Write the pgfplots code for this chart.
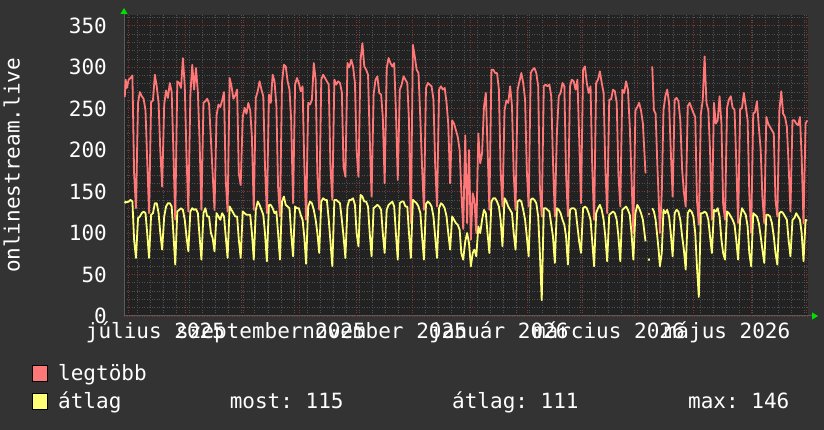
\documentclass[border=0pt]{standalone}
\usepackage{fontspec}
\setmainfont{DejaVu Sans Mono}
\usepackage{pgfplots}
\usepackage{pgfplotstable}
\pgfplotsset{compat=1.18}
\usetikzlibrary{arrows.meta}
\frenchspacing
\definecolor{bgout}{HTML}{333333}
\definecolor{bgplot}{HTML}{222222}
\definecolor{gridminor}{HTML}{505050}
\definecolor{gridmajor}{HTML}{803535}
\definecolor{lred}{HTML}{FF7777}
\definecolor{lyel}{HTML}{FFFF77}
\definecolor{axisgray}{HTML}{5A5A5A}
\definecolor{arrowgreen}{HTML}{00E000}
\newcommand{\bigfont}{\fontsize{21}{25}\selectfont}

% x = day (0 = left edge of graph), r = legtöbb, a = átlag
\pgfplotstableread{
x r a
0.4 264 136
0.9 285 138
1.5 275 137
2.5 285 138
3.5 287 140
4.5 290 138
5.4 172 92
6.4 130 70
7.5 257 118
8.5 270 120
9.5 265 124
10.5 262 126
11.5 248 124
12.4 188 100
13.4 124 70
14.5 258 122
15.5 260 124
16.5 291 136
17.5 277 136
18.5 257 124
19.4 200 100
20.4 156 80
21.5 255 120
22.5 272 132
23.5 263 136
24.5 281 136
25.5 270 132
26.4 200 100
27.4 116 62
28.5 283 126
29.5 281 128
30.5 275 130
31.5 311 128
32.5 277 116
33.4 196 96
34.4 126 78
35.5 267 126
36.5 303 130
37.5 273 128
38.5 299 129
39.5 270 124
40.4 212 96
41.4 128 68
42.5 257 124
43.5 259 130
44.5 262 120
45.5 256 120
46.5 212 100
47.4 172 94
48.4 128 78
49.5 242 124
50.5 255 120
51.5 252 116
52.5 260 124
53.5 270 120
54.4 164 96
55.4 126 70
56.5 287 132
57.5 277 128
58.5 262 124
59.5 266 120
60.5 273 120
61.4 172 92
62.4 158 70
63.5 240 126
64.5 251 124
65.5 244 122
66.5 257 122
67.5 248 122
68.4 216 100
69.4 128 68
70.5 263 128
71.5 271 138
72.5 283 134
73.5 273 128
74.5 265 122
75.4 180 100
76.4 124 66
77.5 267 134
78.5 257 134
79.5 291 130
80.5 283 124
81.5 253 126
82.4 156 100
83.4 120 68
84.5 281 138
85.5 303 144
86.5 301 134
87.5 283 132
88.5 273 130
89.4 236 100
90.4 136 72
91.5 279 132
92.5 287 130
93.5 281 130
94.5 271 122
95.5 277 116
96.4 184 96
97.4 116 63
98.5 257 132
99.5 255 138
100.5 261 136
101.5 305 128
102.5 285 116
103.4 172 100
104.4 128 76
105.5 285 138
106.5 291 142
107.5 287 140
108.5 283 140
109.5 279 116
110.4 180 90
111.4 140 60
112.5 285 140
113.5 279 140
114.5 283 138
115.5 281 136
116.5 270 116
117.4 180 96
118.4 168 70
119.5 305 132
120.5 300 140
121.5 309 140
122.5 301 142
123.5 281 134
124.4 200 100
125.4 168 84
126.5 309 146
127.5 329 144
128.5 301 138
129.5 297 138
130.5 291 132
131.4 216 100
132.4 144 72
133.5 267 130
134.5 285 132
135.5 289 134
136.5 269 132
137.5 267 128
138.4 240 100
139.4 160 76
140.5 299 128
141.5 311 134
142.5 305 136
143.5 301 138
144.5 305 132
145.4 248 100
146.4 164 68
147.5 273 136
148.5 279 138
149.5 289 138
150.5 285 132
151.5 281 132
152.4 236 100
153.4 112 70
154.5 327 140
155.5 313 138
156.5 297 136
157.5 293 132
158.5 236 124
159.4 180 96
160.4 128 68
161.5 275 135
162.5 281 138
163.5 279 136
164.5 277 132
165.5 261 120
166.4 184 96
167.4 132 70
168.5 273 130
169.5 277 136
170.5 273 134
171.5 275 130
172.5 257 120
173.4 232 100
174.4 160 80
175.5 236 120
176.5 232 116
177.5 224 112
178.5 216 110
179.5 200 104
180.4 150 76
181.4 105 68
182.5 218 90
183.5 112 100
184.5 200 88
185.5 92 60
186.5 148 76
187.4 140 80
188.4 100 72
189.5 220 108
190.5 184 100
191.5 196 116
192.5 252 128
193.5 269 124
194.4 204 100
195.4 128 76
196.5 297 138
197.5 297 142
198.5 293 142
199.5 293 138
200.5 273 132
201.4 176 116
202.4 132 84
203.5 248 142
204.5 260 138
205.5 257 132
206.5 277 128
207.5 253 124
208.4 172 100
209.4 128 80
210.5 273 138
211.5 283 140
212.5 293 138
213.5 281 128
214.5 261 116
215.4 176 96
216.4 132 72
217.5 293 140
218.5 297 142
219.5 299 140
220.5 293 136
221.5 277 120
222.4 156 76
223.4 120 19
224.5 277 130
225.5 279 130
226.5 277 128
227.5 279 126
228.5 265 110
229.4 188 96
230.4 120 64
231.5 220 130
232.5 265 128
233.5 269 124
234.5 281 116
235.5 277 110
236.4 172 96
237.4 120 62
238.5 277 128
239.5 285 130
240.5 283 130
241.5 273 128
242.5 285 108
243.4 216 90
244.4 136 76
245.5 297 130
246.5 301 132
247.5 281 130
248.5 269 124
249.5 277 116
250.4 180 90
251.4 116 60
252.5 281 124
253.5 285 130
254.5 295 134
255.5 281 128
256.5 269 116
257.4 180 96
258.4 124 66
259.5 261 122
260.5 261 124
261.5 273 126
262.5 271 124
263.5 257 116
264.4 172 96
265.4 132 66
266.5 273 128
267.5 269 130
268.5 283 132
269.5 273 128
270.5 228 122
271.4 168 100
272.4 100 68
273.5 248 124
274.5 252 134
275.5 257 130
276.5 248 124
277.5 232 116
278.9 172 90
279.3 nan nan
280.2 123 68
281.2 123 68
281.6 nan nan
282.5 301 130
283.4 248 126
284.3 244 116
285.2 184 96
285.9 144 80
286.6 100 60
287.6 148 76
288.5 248 128
289.5 265 124
290.5 273 128
291.5 257 120
292.4 200 100
293.4 144 72
294.5 261 124
295.5 263 128
296.5 259 126
297.5 236 116
298.5 176 96
299.4 150 80
300.4 132 56
301.5 253 124
302.5 257 128
303.5 251 126
304.5 245 120
305.5 240 100
306.4 140 60
307.4 110 23
308.5 244 124
309.5 260 124
310.5 313 126
311.5 257 124
312.5 248 116
313.4 200 96
314.4 116 76
315.5 257 128
316.5 232 126
317.5 236 130
318.5 265 120
319.5 232 92
320.4 136 76
321.4 116 68
322.5 251 126
323.5 261 124
324.5 265 120
325.5 251 116
326.5 249 110
327.4 188 92
328.4 112 68
329.5 249 116
330.5 251 130
331.5 269 126
332.5 253 122
333.5 236 108
334.4 148 76
335.4 100 60
336.5 244 124
337.5 246 122
338.5 259 120
339.5 228 112
340.5 200 96
341.4 144 80
342.4 112 64
343.5 240 122
344.5 232 122
345.5 228 120
346.5 224 112
347.5 220 96
348.4 140 76
349.4 120 62
350.5 248 124
351.5 271 126
352.5 244 124
353.5 240 120
354.5 228 116
355.4 184 92
356.4 126 72
357.5 236 116
358.5 236 118
359.5 232 124
360.5 230 120
361.5 240 116
362.4 192 100
363.4 112 66
364.5 232 116
365.4 236 115
}\data

\begin{document}
\begin{tikzpicture}[x=1pt,y=1pt]
\fill[bgout] (0,0) rectangle (824,430);
\begin{axis}[
  at={(124pt,114pt)}, anchor=south west,
  width=684pt, height=301pt, scale only axis,
  xmin=0, xmax=365.8, ymin=0, ymax=363,
  axis lines*=left,
  axis line style={draw=axisgray, line width=1pt},
  x axis line style={-{Triangle[length=6pt,width=7pt,color=arrowgreen]}, shorten >=-10pt},
  y axis line style={-{Triangle[length=6pt,width=7pt,color=arrowgreen]}, shorten >=-7pt},
  axis background/.style={fill=bgplot},
  unbounded coords=jump,
  /pgf/number format/assume math mode=true,
  ticklabel style={font=\bigfont, text=white},
  xtick={16.8,78.6,139.4,200.5,259.3,322.5},
  xticklabels={július 2025,szeptember 2025,november 2025,január 2026,március 2026,május 2026},
  xticklabel style={anchor=base, inner sep=0pt, yshift=-23pt},
  ytick={0,50,...,350},
  yticklabel style={anchor=east, inner sep=0pt, xshift=-17pt},
  minor xtick={7,14,...,364},
  minor ytick={10,20,30,40,60,70,80,90,110,120,130,140,160,170,180,190,210,220,230,240,260,270,280,290,310,320,330,340,360},
  major tick length=0pt, minor tick length=0pt,
  xmajorgrids=false, xminorgrids=true, ymajorgrids=true, yminorgrids=true,
  minor grid style={draw=gridminor, line width=0.8pt, dash pattern=on 1pt off 1.5pt},
  major grid style={draw=gridmajor, line width=0.8pt, dash pattern=on 1pt off 1.5pt},
  extra x ticks={2.1,32.9,63.8,93.6,124.5,154.3,185.1,216,243.9,274.7,304.5,335.4,365.2},
  extra x tick labels={},
  extra x tick style={xmajorgrids=true},
]
\addplot[lred, line width=1.8pt, line join=round] table[x=x, y=r] {\data};
\addplot[lyel, line width=1.8pt, line join=round] table[x=x, y=a] {\data};
\end{axis}
\node[rotate=90, anchor=south, inner sep=0pt, font=\bigfont, text=white] at (20,264.5) {onlinestream.live};
\filldraw[fill=lred, draw=black, line width=1pt] (32,48.5) rectangle (47,64.5);
\filldraw[fill=lyel, draw=black, line width=1pt] (32,20.5) rectangle (47,36.5);
\node[anchor=base west, inner sep=0pt, font=\bigfont, text=white] at (58,49) {legtöbb};
\node[anchor=base west, inner sep=0pt, font=\bigfont, text=white] at (58,21) {átlag};
\node[anchor=base west, inner sep=0pt, font=\bigfont, text=white] at (229.6,21) {most: 115};
\node[anchor=base west, inner sep=0pt, font=\bigfont, text=white] at (452,21) {átlag: 111};
\node[anchor=base west, inner sep=0pt, font=\bigfont, text=white] at (688,21) {max: 146};
\end{tikzpicture}
\end{document}
